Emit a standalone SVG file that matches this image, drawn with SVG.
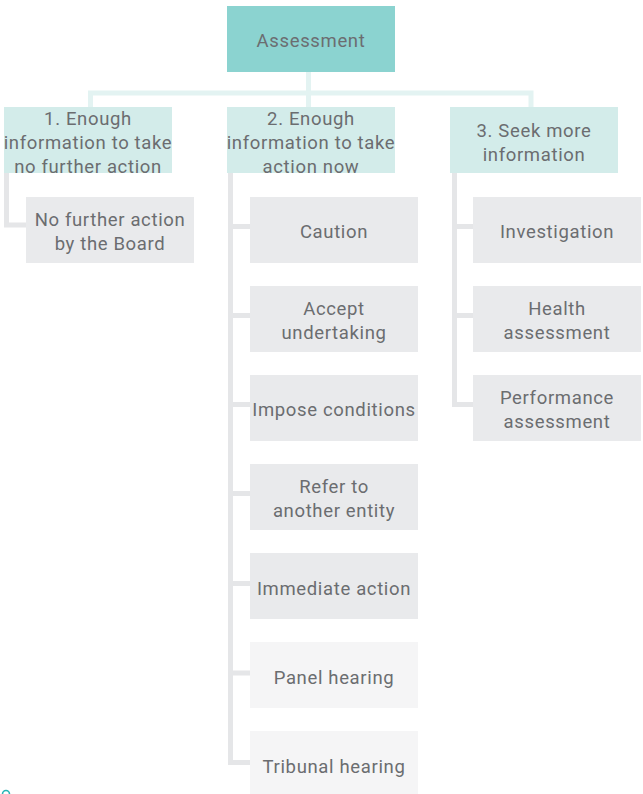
<svg xmlns="http://www.w3.org/2000/svg" width="643" height="794" viewBox="0 0 643 794">
<style>
text{font-family:Roboto,"Open Sans","Liberation Sans",sans-serif;font-size:18.5px;fill:#6b6d70;text-anchor:middle;letter-spacing:0.65px}
.top{fill:#8bd3d0}
.l1{fill:#d3ecea}
.ch{fill:#e9eaec}
.lt{fill:#f5f5f6}
.tc{fill:none;stroke:#e3f3f2;stroke-width:5}
.gc{fill:none;stroke:#e5e6e8;stroke-width:5}
</style>
<rect width="643" height="794" fill="#ffffff"/>
<g id="connectors">
<path class="tc" d="M308.5 72 V107 M90.5 107 V93 H531 V107"/>
<path class="gc" d="M6.5 173 V225 H26"/>
<path class="gc" d="M230.5 173 V762.5 H250 M230.5 226.5 H250 M230.5 315.5 H250 M230.5 404.5 H250 M230.5 493.5 H250 M230.5 583.5 H250 M230.5 673 H250"/>
<path class="gc" d="M454.5 173 V404.5 H473 M454.5 226.5 H473 M454.5 315.5 H473"/>
</g>
<g id="assessment"><rect class="top" x="227" y="6" width="168" height="66"/><text x="311" y="47">Assessment</text></g>
<g id="opt1"><rect class="l1" x="4" y="107" width="168" height="66"/><text x="88" y="125">1. Enough</text><text x="88" y="149">information to take</text><text x="88" y="173">no further action</text></g>
<g id="opt2"><rect class="l1" x="227" y="107" width="168" height="66"/><text x="311" y="125">2. Enough</text><text x="311" y="149">information to take</text><text x="311" y="173">action now</text></g>
<g id="opt3"><rect class="l1" x="450" y="107" width="168" height="66"/><text x="534" y="137">3. Seek more</text><text x="534" y="161">information</text></g>
<g id="nfa"><rect class="ch" x="26" y="197" width="168" height="66"/><text x="110" y="226">No further action</text><text x="110" y="250">by the Board</text></g>
<g id="caution"><rect class="ch" x="250" y="197" width="168" height="66"/><text x="334" y="238">Caution</text></g>
<g id="undertaking"><rect class="ch" x="250" y="286" width="168" height="66"/><text x="334" y="315">Accept</text><text x="334" y="339">undertaking</text></g>
<g id="conditions"><rect class="ch" x="250" y="375" width="168" height="66"/><text x="334" y="416">Impose conditions</text></g>
<g id="refer"><rect class="ch" x="250" y="464" width="168" height="66"/><text x="334" y="493">Refer to</text><text x="334" y="517">another entity</text></g>
<g id="immediate"><rect class="ch" x="250" y="553" width="168" height="66"/><text x="334" y="595">Immediate action</text></g>
<g id="panel"><rect class="lt" x="250" y="642" width="168" height="66"/><text x="334" y="684">Panel hearing</text></g>
<g id="tribunal"><rect class="lt" x="250" y="731" width="168" height="66"/><text x="334" y="773">Tribunal hearing</text></g>
<g id="investigation"><rect class="ch" x="473" y="197" width="168" height="66"/><text x="557" y="238">Investigation</text></g>
<g id="health"><rect class="ch" x="473" y="286" width="168" height="66"/><text x="557" y="315">Health</text><text x="557" y="339">assessment</text></g>
<g id="performance"><rect class="ch" x="473" y="375" width="168" height="66"/><text x="557" y="404">Performance</text><text x="557" y="428">assessment</text></g>
<circle cx="6" cy="794" r="3.5" fill="none" stroke="#27b5b5" stroke-width="1.6"/>
</svg>
